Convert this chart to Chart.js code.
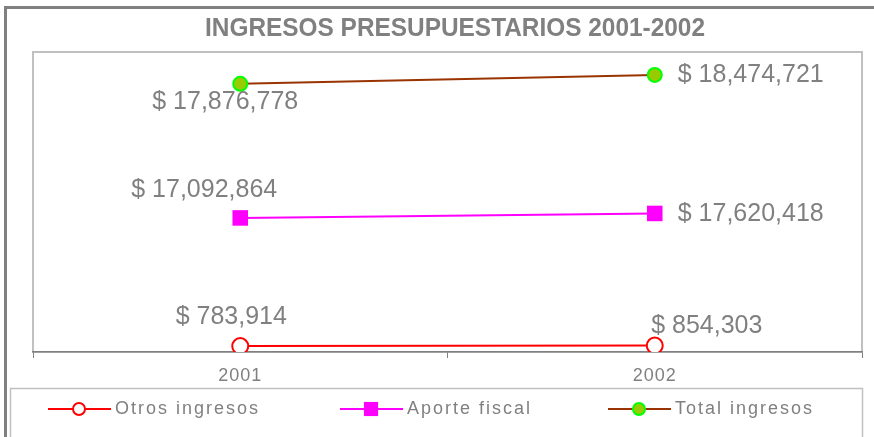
<!DOCTYPE html>
<html>
<head>
<meta charset="utf-8">
<script src="https://cdn.jsdelivr.net/npm/chart.js@4"></script>
<style>
html, body { margin: 0; padding: 0; background: #fff; }
#wrap { width: 874px; height: 437px; }
</style>
</head>
<body>
<div id="wrap"><canvas id="ingresosChart"></canvas></div>
<script>
// data
const years = ["2001", "2002"];
const otrosIngresos = [783914, 854303];
const aporteFiscal = [17092864, 17620418];
const totalIngresos = [17876778, 18474721];
const seriesNames = ["Otros ingresos", "Aporte fiscal", "Total ingresos"];
const chartTitle = "INGRESOS PRESUPUESTARIOS 2001-2002";

// where each value label sits relative to its point (dx, dy of text centre)
const labelOffsets = [
    [[-9, -29], [52, -19]],
    [[-36, -28], [96, 1]],
    [[-15, 18], [96, 0]]
];
const legendX = [48, 340, 608];   // start of each legend line

const grey = '#808080';
const font = '"Liberation Sans", Arial, sans-serif';

function money(v) {
    return '$ ' + v.toLocaleString('en-US');
}

const framePlugin = {
    id: 'frame',
    beforeDraw(chart) {
        const ctx = chart.ctx;
        const a = chart.chartArea;
        ctx.save();
        // outer chart border
        ctx.strokeStyle = grey;
        ctx.lineWidth = 3;
        ctx.strokeRect(5.5, 7.5, 900, 500);
        // plot area box
        ctx.strokeStyle = '#c0c0c0';
        ctx.lineWidth = 2;
        ctx.strokeRect(a.left, a.top, a.right - a.left, a.bottom - a.top);
        // legend box
        ctx.lineWidth = 1.5;
        ctx.strokeRect(10.5, 388.5, 852, 100);
        ctx.restore();
        ctx.letterSpacing = '1px';   // wide axis labels like the original
    },
    afterDraw(chart) {
        const ctx = chart.ctx;
        ctx.save();
        ctx.letterSpacing = '0px';
        // title, narrow bold face squeezed to the original width
        ctx.fillStyle = grey;
        ctx.font = 'bold 25px ' + font;
        ctx.textAlign = 'center';
        ctx.textBaseline = 'middle';
        const tw = ctx.measureText(chartTitle).width;
        ctx.save();
        ctx.translate(455, 29);
        ctx.scale(500 / tw, 1);
        ctx.fillText(chartTitle, 0, 0);
        ctx.restore();

        // value labels (raw values, not stacked)
        ctx.font = '25px ' + font;
        chart.data.datasets.forEach((ds, i) => {
            const meta = chart.getDatasetMeta(i);
            meta.data.forEach((pt, j) => {
                const off = labelOffsets[i][j];
                ctx.fillText(money(ds.data[j]), pt.x + off[0], pt.y + off[1]);
            });
        });

        // legend
        ctx.letterSpacing = '2px';
        ctx.font = '18px ' + font;
        ctx.textAlign = 'left';
        const ly = 409;
        chart.data.datasets.forEach((ds, i) => {
            const x0 = legendX[i];
            ctx.strokeStyle = ds.borderColor;
            ctx.lineWidth = 2;
            ctx.beginPath();
            ctx.moveTo(x0, ly);
            ctx.lineTo(x0 + 63, ly);
            ctx.stroke();
            ctx.fillStyle = ds.pointBackgroundColor;
            ctx.strokeStyle = ds.pointBorderColor;
            Chart.helpers.drawPoint(ctx, {
                pointStyle: ds.pointStyle,
                rotation: 0,
                radius: ds.legendRadius,
                borderWidth: ds.pointBorderWidth
            }, x0 + 31, ly);
            ctx.fillStyle = grey;
            ctx.fillText(ds.label, x0 + 67, ly);
        });
        ctx.restore();
    }
};

const ingresosChart = new Chart(document.getElementById('ingresosChart'), {
    type: 'line',
    data: {
        labels: years,
        datasets: [
            {
                label: seriesNames[0],
                data: otrosIngresos,
                borderColor: '#ff0000',
                borderWidth: 2,
                pointStyle: 'circle',
                pointRadius: 8,
                legendRadius: 6,
                pointBorderWidth: 2,
                pointBorderColor: '#ff0000',
                pointBackgroundColor: '#ffffff'
            },
            {
                label: seriesNames[1],
                data: aporteFiscal,
                borderColor: '#ff00ff',
                borderWidth: 2,
                pointStyle: 'rect',
                pointRadius: 11,
                legendRadius: 10,
                pointBorderWidth: 0,
                pointBorderColor: '#ff00ff',
                pointBackgroundColor: '#ff00ff'
            },
            {
                label: seriesNames[2],
                data: totalIngresos,
                borderColor: '#993300',
                borderWidth: 2,
                pointStyle: 'circle',
                pointRadius: 7,
                legendRadius: 6,
                pointBorderWidth: 2,
                pointBorderColor: '#00ff00',
                pointBackgroundColor: '#99cc00'
            }
        ]
    },
    options: {
        responsive: true,
        maintainAspectRatio: false,
        animation: false,
        layout: { padding: { left: 33, right: 12, top: 52, bottom: 50 } },
        plugins: {
            legend: { display: false },
            title: { display: false },
            tooltip: { enabled: false }
        },
        scales: {
            x: {
                offset: true,
                grid: { offset: true, drawOnChartArea: false, drawTicks: true, tickLength: 6, color: grey },
                border: { color: grey, width: 1.5 },
                ticks: { color: grey, font: { family: font, size: 18 }, padding: 7 },
                afterFit(scale) { scale.height = 35; }
            },
            y: {
                display: false,
                stacked: true,
                min: 0,
                max: 40000000
            }
        }
    },
    plugins: [framePlugin]
});
</script>
</body>
</html>
